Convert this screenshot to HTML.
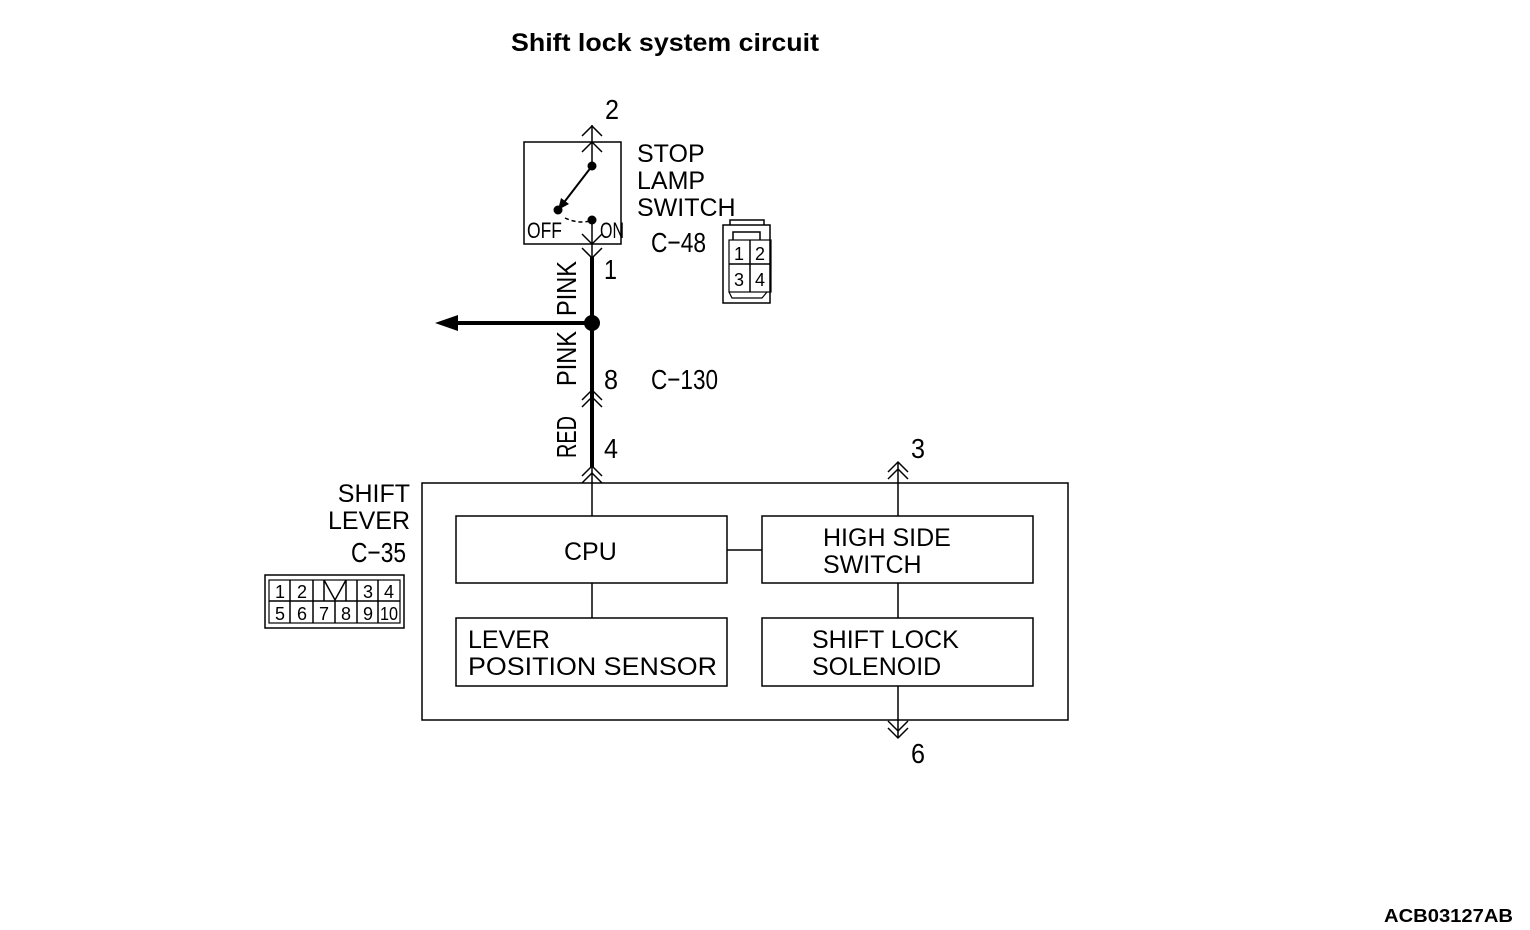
<!DOCTYPE html>
<html><head><meta charset="utf-8"><style>
html,body{margin:0;padding:0;background:#fff;}
svg{display:block;}
text{font-family:"Liberation Sans",Arial,sans-serif;fill:#000;}
.n{font-family:"Liberation Sans Narrow","Liberation Sans",sans-serif;}
</style></head><body>
<svg width="1530" height="930" viewBox="0 0 1530 930" xmlns="http://www.w3.org/2000/svg">
<rect width="1530" height="930" fill="#fff"/>
<text x="511" y="51" font-size="25" font-weight="bold" textLength="308" lengthAdjust="spacingAndGlyphs">Shift lock system circuit</text>

<g stroke="#000" fill="none" stroke-width="1.5">
<rect x="524" y="142" width="97" height="102"/>
<line x1="592" y1="125" x2="592" y2="166"/>
<polyline points="582,136 592,126 602,136"/>
<polyline points="582,152 592,142 602,152"/>
<line x1="592" y1="166" x2="562" y2="205" stroke-width="2"/>
<path d="M565,218 Q578,224 590,221" stroke-dasharray="4,3"/>
<line x1="592" y1="220" x2="592" y2="258"/>
<polyline points="582,234 592,244 602,234"/>
<polyline points="582,248 592,258 602,248"/>
<line x1="592" y1="257" x2="592" y2="467" stroke-width="4"/>
<line x1="592" y1="323" x2="455" y2="323" stroke-width="4"/>
<polyline points="582,400 592,390 602,400"/>
<polyline points="582,407 592,397 602,407"/>
<polyline points="582,476 592,466 602,476"/>
<polyline points="582,483 592,473 602,483"/>
<line x1="592" y1="465" x2="592" y2="516"/>
<rect x="422" y="483" width="646" height="237"/>
<rect x="456" y="516" width="271" height="67"/>
<rect x="762" y="516" width="271" height="67"/>
<rect x="456" y="618" width="271" height="68"/>
<rect x="762" y="618" width="271" height="68"/>
<line x1="727" y1="550" x2="762" y2="550"/>
<line x1="592" y1="583" x2="592" y2="618"/>
<line x1="898" y1="583" x2="898" y2="618"/>
<line x1="898" y1="462" x2="898" y2="516"/>
<polyline points="888,472 898,462 908,472"/>
<polyline points="888,479 898,469 908,479"/>
<line x1="898" y1="686" x2="898" y2="738"/>
<polyline points="888,728 898,738 908,728"/>
<polyline points="888,721 898,731 908,721"/>
<rect x="723" y="225" width="47" height="78"/>
<polyline points="730,225 730,220 764,220 764,225"/>
<polyline points="733,240 733,232 760,232 760,240"/>
<rect x="729" y="240" width="42" height="52" stroke-width="1.2"/>
<line x1="729" y1="264" x2="771" y2="264"/>
<line x1="750" y1="240" x2="750" y2="292"/>
<polyline points="729,292 732,298 762,298 767,292" stroke-width="1.2"/>
<rect x="265" y="575" width="139" height="53"/>
<rect x="269" y="580" width="131" height="43" stroke-width="1.2"/>
<line x1="269" y1="601" x2="400" y2="601"/>
<line x1="290" y1="580" x2="290" y2="623"/>
<line x1="313" y1="580" x2="313" y2="623"/>
<line x1="335" y1="601" x2="335" y2="623"/>
<line x1="357" y1="580" x2="357" y2="623"/>
<line x1="378" y1="580" x2="378" y2="623"/>
<polyline points="324,601 324,580 335,600 346,580 346,601"/>
</g>
<circle cx="592" cy="166" r="4.5"/>
<circle cx="558" cy="210" r="4.5"/>
<circle cx="592" cy="220" r="4.5"/>
<polygon points="558,210 561,198 569,204"/>
<circle cx="592" cy="323" r="8"/>
<polygon points="435,323 458,315 458,331"/>

<g class="n" font-size="28">
<text x="605" y="119" textLength="14" lengthAdjust="spacingAndGlyphs">2</text>
<text x="604" y="279" textLength="13" lengthAdjust="spacingAndGlyphs">1</text>
<text x="604" y="389" textLength="14" lengthAdjust="spacingAndGlyphs">8</text>
<text x="604" y="458" textLength="14" lengthAdjust="spacingAndGlyphs">4</text>
<text x="911" y="458" textLength="14" lengthAdjust="spacingAndGlyphs">3</text>
<text x="911" y="763" textLength="14" lengthAdjust="spacingAndGlyphs">6</text>
<text x="651" y="252" textLength="55" lengthAdjust="spacingAndGlyphs">C−48</text>
<text x="651" y="389" textLength="67" lengthAdjust="spacingAndGlyphs">C−130</text>
<text x="351" y="562" textLength="55" lengthAdjust="spacingAndGlyphs">C−35</text>
<text x="527" y="238" font-size="22" textLength="35" lengthAdjust="spacingAndGlyphs">OFF</text>
<text x="600" y="238" font-size="22" textLength="24" lengthAdjust="spacingAndGlyphs">ON</text>
<text transform="translate(576,316) rotate(-90)" textLength="55" lengthAdjust="spacingAndGlyphs">PINK</text>
<text transform="translate(576,386) rotate(-90)" textLength="55" lengthAdjust="spacingAndGlyphs">PINK</text>
<text transform="translate(576,458) rotate(-90)" textLength="42" lengthAdjust="spacingAndGlyphs">RED</text>
</g>
<g class="n" font-size="18">
<text x="734" y="260">1</text><text x="755" y="260">2</text>
<text x="734" y="286">3</text><text x="755" y="286">4</text>
<text x="275" y="598">1</text><text x="297" y="598">2</text><text x="363" y="598">3</text><text x="384" y="598">4</text>
<text x="275" y="620">5</text><text x="297" y="620">6</text><text x="319" y="620">7</text><text x="341" y="620">8</text><text x="363" y="620">9</text><text x="380" y="620" textLength="18" lengthAdjust="spacingAndGlyphs">10</text>
</g>
<g font-size="25">
<text x="637" y="162">STOP</text>
<text x="637" y="189">LAMP</text>
<text x="637" y="216">SWITCH</text>
<text x="410" y="502" text-anchor="end">SHIFT</text>
<text x="410" y="529" text-anchor="end">LEVER</text>
<text x="564" y="560">CPU</text>
<text x="823" y="546">HIGH SIDE</text>
<text x="823" y="573">SWITCH</text>
<text x="468" y="648">LEVER</text>
<text x="468" y="675" textLength="249" lengthAdjust="spacingAndGlyphs">POSITION SENSOR</text>
<text x="812" y="648">SHIFT LOCK</text>
<text x="812" y="675">SOLENOID</text>
</g>
<text x="1384" y="922" font-size="18" font-weight="bold" textLength="129" lengthAdjust="spacingAndGlyphs">ACB03127AB</text>
</svg>
</body></html>
